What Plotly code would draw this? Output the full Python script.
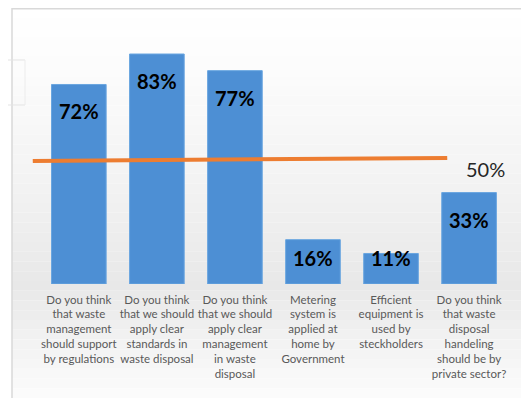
import plotly.graph_objects as go

# survey questions (x tick labels) and share answering yes, in %
questions = [
    "Do you think<br>that waste<br>management<br>should support<br>by regulations",
    "Do you think<br>that we should<br>apply clear<br>standards in<br>waste disposal",
    "Do you think<br>that we should<br>apply clear<br>management<br>in waste<br>disposal",
    "Metering<br>system is<br>applied at<br>home by<br>Government",
    "Efficient<br>equipment is<br>used by<br>steckholders",
    "Do you think<br>that waste<br>disposal<br>handeling<br>should be by<br>private sector?",
]
values = [72, 83, 77, 16, 11, 33]

# hand drawn reference line and its label
line_x = [-0.59, 4.72]
line_y = [44.4, 45.5]
line_label = "50%"

# page has an 8px body margin, so the figure is a bit smaller than the window
OFF = 8
W, H = 529 - OFF, 398 - OFF
ML, MR, MT, MB = 24, 17, 0, 114
PW, PH = W - ML - MR, H - MT - MB


def px(x):
    """page pixel x -> paper x"""
    return (x - OFF - ML) / PW


def py(y):
    """page pixel y -> paper y"""
    return (MT + PH - (y - OFF)) / PH


positions = list(range(len(values)))

fig = go.Figure()
fig.add_trace(go.Bar(x=positions, y=values, width=0.7,
                     marker=dict(color="#4d8fd4", line=dict(color="#6aa6e0", width=1)),
                     hoverinfo="skip"))
fig.add_trace(go.Scatter(x=line_x, y=line_y, mode="lines",
                         line=dict(color="#ed7d31", width=4), hoverinfo="skip"))

# value labels inside the bars
for x, v in zip(positions, values):
    if v > 20:
        fig.add_annotation(x=x, y=v, text=f"<b>{v}%</b>", showarrow=False,
                           yanchor="top", yshift=-13,
                           font=dict(family="Lato", size=20, color="#000000"))
    else:
        fig.add_annotation(x=x, y=0, text=f"<b>{v}%</b>", showarrow=False,
                           yanchor="bottom", yshift=12,
                           font=dict(family="Lato", size=20, color="#000000"))

fig.add_annotation(x=5.21, y=41.5, text=line_label, showarrow=False,
                   font=dict(family="Lato", size=20, color="#262626"))

# soft vertical gradient behind the chart
shapes = []
bands = 40
top, peak, bottom = 8, 285, 398
for i in range(bands):
    y0 = top + (bottom - top) * i / bands
    y1 = top + (bottom - top) * (i + 1) / bands
    mid = (y0 + y1) / 2
    if mid < peak:
        g = 255 - (255 - 232) * ((mid - top) / (peak - top)) ** 1.3
    else:
        g = 232 + (252 - 232) * (mid - peak) / (bottom - peak)
    g = int(round(g))
    shapes.append(dict(type="rect", xref="paper", yref="paper", layer="below",
                       x0=px(12), x1=px(530), y0=py(y1), y1=py(y0),
                       fillcolor=f"rgb({g},{g},{g})", line=dict(width=0)))

# chart frame and stray lines from the screenshot
shapes.append(dict(type="line", xref="paper", yref="paper", x0=px(12), x1=px(535),
                   y0=py(8.7), y1=py(8.7), line=dict(color="#d9d9d9", width=1.5)))
shapes.append(dict(type="line", xref="paper", yref="paper", x0=px(12), x1=px(12),
                   y0=py(8), y1=py(405), line=dict(color="#d9d9d9", width=1.5)))
shapes.append(dict(type="line", xref="paper", yref="paper", x0=px(8), x1=px(25),
                   y0=py(60), y1=py(60), line=dict(color="#e3e3e3", width=1)))
shapes.append(dict(type="line", xref="paper", yref="paper", x0=px(8), x1=px(25),
                   y0=py(105), y1=py(105), line=dict(color="#e3e3e3", width=1)))
shapes.append(dict(type="line", xref="paper", yref="paper", x0=px(25), x1=px(25),
                   y0=py(60), y1=py(105), line=dict(color="#ececec", width=1)))

fig.update_layout(
    width=W, height=H,
    margin=dict(l=ML, r=MR, t=MT, b=MB, autoexpand=False),
    paper_bgcolor="#ffffff", plot_bgcolor="rgba(0,0,0,0)",
    showlegend=False,
    shapes=shapes,
    xaxis=dict(range=[-0.6, 5.55], tickvals=positions, ticktext=questions,
               automargin=False, ticklabelstandoff=7,
               showgrid=False, zeroline=False, showline=False, ticks="",
               tickangle=0, tickfont=dict(family="Lato", size=11.5, color="#595959")),
    yaxis=dict(range=[0, 99.6], visible=False, fixedrange=True, automargin=False),
)

fig.write_html("out.html")
